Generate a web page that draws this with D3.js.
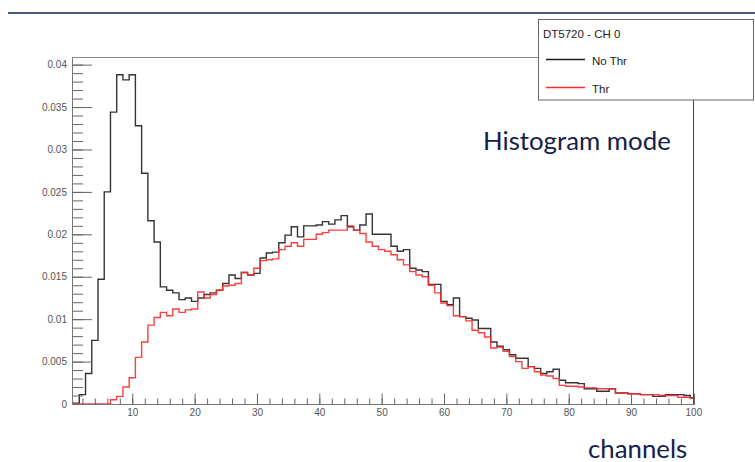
<!DOCTYPE html>
<html lang="en">
    <head>
        <meta charset="utf-8">
        <title>DT5720 - CH 0 histogram</title>
        <script type="text/javascript" src="https://d3js.org/d3.v7.min.js"></script>
        <style type="text/css">
            body { margin: 0; background: white; }
            .tick text {
                font-family: "Liberation Sans", sans-serif;
                font-size: 10px;
                fill: #555;
            }
            .legend text {
                font-family: "Liberation Sans", sans-serif;
                font-size: 11.5px;
                fill: #222;
            }
            .big {
                font-family: Lato, sans-serif;
                font-size: 25.8px;
                fill: #15204a;
            }
        </style>
    </head>
    <body>
        <script type="text/javascript">

        // Width and Height
        var w = 755;
        var h = 462;

        // Datos: canales 1..100, un bin por canal
        var channels = d3.range(1, 101);

        var noThr = [
            0.0001, 0.0011, 0.0036, 0.0075, 0.0147, 0.0250, 0.0344, 0.0388, 0.0382, 0.0388,
            0.0328, 0.0272, 0.0216, 0.0191, 0.0138, 0.0134, 0.0131, 0.0123, 0.0125, 0.0121,
            0.0125, 0.0129, 0.0131, 0.0134, 0.0142, 0.0152, 0.0148, 0.0155, 0.0152, 0.0154,
            0.0172, 0.0178, 0.0179, 0.0190, 0.0199, 0.0209, 0.0197, 0.0210, 0.0210, 0.0211,
            0.0215, 0.0212, 0.0217, 0.0222, 0.0209, 0.0205, 0.0211, 0.0224, 0.0200, 0.0200,
            0.0200, 0.0186, 0.0180, 0.0182, 0.0160, 0.0158, 0.0156, 0.0141, 0.0141, 0.0121,
            0.0117, 0.0125, 0.0103, 0.0101, 0.0099, 0.0089, 0.0089, 0.0073, 0.0068, 0.0064,
            0.0058, 0.0054, 0.0054, 0.0044, 0.0042, 0.0036, 0.0038, 0.0041, 0.0028, 0.0025,
            0.0025, 0.0024, 0.0018, 0.0018, 0.0015, 0.0015, 0.0018, 0.0013, 0.0013, 0.0012,
            0.0012, 0.0011, 0.0011, 0.0009, 0.0009, 0.0011, 0.0011, 0.0011, 0.0010, 0.0007
        ];

        var thr = [
            0, 0, 0, 0, 0, 0, 0.0005, 0.0009, 0.0020, 0.0031,
            0.0055, 0.0073, 0.0093, 0.0102, 0.0108, 0.0104, 0.0112, 0.0108, 0.0111, 0.0112,
            0.0132, 0.0125, 0.0129, 0.0134, 0.0139, 0.0140, 0.0142, 0.0155, 0.0152, 0.0160,
            0.0169, 0.0170, 0.0171, 0.0182, 0.0186, 0.0190, 0.0186, 0.0194, 0.0194, 0.0200,
            0.0202, 0.0205, 0.0205, 0.0205, 0.0210, 0.0205, 0.0201, 0.0191, 0.0186, 0.0182,
            0.0180, 0.0176, 0.0170, 0.0164, 0.0156, 0.0152, 0.0150, 0.0140, 0.0131, 0.0119,
            0.0116, 0.0104, 0.0103, 0.0098, 0.0087, 0.0084, 0.0079, 0.0066, 0.0067, 0.0062,
            0.0056, 0.0050, 0.0042, 0.0044, 0.0038, 0.0034, 0.0033, 0.0030, 0.0022, 0.0021,
            0.0021, 0.0020, 0.0019, 0.0019, 0.0018, 0.0018, 0.0018, 0.0013, 0.0013, 0.0012,
            0.0012, 0.0011, 0.0011, 0.0011, 0.0010, 0.0010, 0.0010, 0.0008, 0.0008, 0.0007
        ];

        // Ticks
        var xTickValues = [10, 20, 30, 40, 50, 60, 70, 80, 90, 100];
        var xTickLabels = ["10", "20", "30", "40", "50", "60", "70", "80", "90", "100"];
        var yTickValues = [0, 0.005, 0.01, 0.015, 0.02, 0.025, 0.03, 0.035, 0.04];
        var yTickLabels = ["0", "0.005", "0.01", "0.015", "0.02", "0.025", "0.03", "0.035", "0.04"];

        var legendTitle = "DT5720 - CH 0";
        var seriesNames = ["No Thr", "Thr"];
        var seriesColors = ["#1e1e1e", "#ff2a2a"];

        // Marco (no usar "top": choca con window.top)
        var fLeft = 72, fRight = 694, fTop = 57, fBottom = 404;

        var x = d3.scaleLinear().domain([0.33, 100.1]).range([fLeft, fRight]);
        var y = d3.scaleLinear().domain([0, 0.0409]).range([fBottom, fTop]);

        var svg = d3.select("body")
                    .append("svg")
                    .attr("width", w)
                    .attr("height", h);

        // Linea azul de la diapositiva
        svg.append("line")
            .attr("x1", 8).attr("x2", w)
            .attr("y1", 13).attr("y2", 13)
            .attr("stroke", "#4b5785")
            .attr("stroke-width", 2);

        svg.append("clipPath").attr("id", "plot")
            .append("rect")
            .attr("x", fLeft).attr("y", fTop)
            .attr("width", fRight - fLeft).attr("height", fBottom - fTop);

        // Histogramas como escalones
        var line = d3.line()
            .x(function(d){ return x(d[0]); })
            .y(function(d){ return y(d[1]); })
            .curve(d3.curveStepAfter);

        function steps(values) {
            var pts = [[channels[0] - 0.5, 0]];
            channels.forEach(function(c, i){
                pts.push([c - 0.5, values[i]]);
            });
            pts.push([channels[channels.length - 1] + 0.5, values[values.length - 1]]);
            return pts;
        }

        [noThr, thr].forEach(function(values, i){
            svg.append("path")
                .attr("clip-path", "url(#plot)")
                .attr("d", line(steps(values)))
                .attr("fill", "none")
                .attr("stroke", seriesColors[i])
                .attr("stroke-width", 1.4)
                .attr("opacity", 0.9);
        });

        // Ejes con marcas hacia dentro
        var yMinor = d3.axisLeft(y)
            .tickValues(d3.range(0, 0.0405, 0.001))
            .tickSize(-11)
            .tickFormat("");
        var yMajor = d3.axisLeft(y)
            .tickValues(yTickValues)
            .tickSize(-20)
            .tickPadding(5)
            .tickFormat(function(d, i){ return yTickLabels[i]; });

        var xMinor = d3.axisBottom(x)
            .tickValues(d3.range(2, 100.1, 2))
            .tickSize(-5.5)
            .tickFormat("");
        var xMajor = d3.axisBottom(x)
            .tickValues(xTickValues)
            .tickSize(-10.5)
            .tickPadding(5)
            .tickFormat(function(d, i){ return xTickLabels[i]; });

        [yMinor, yMajor].forEach(function(ax){
            svg.append("g")
                .attr("transform", "translate(" + fLeft + ",0)")
                .call(ax);
        });
        [xMinor, xMajor].forEach(function(ax){
            svg.append("g")
                .attr("transform", "translate(0," + fBottom + ")")
                .call(ax);
        });
        svg.selectAll(".domain").attr("stroke", "#777");
        svg.selectAll(".tick line").attr("stroke", "#666");

        // Resto del marco
        svg.append("line")
            .attr("x1", fLeft).attr("x2", 538.5)
            .attr("y1", fTop + 0.5).attr("y2", fTop + 0.5)
            .attr("stroke", "#888");
        svg.append("line")
            .attr("x1", fRight - 0.5).attr("x2", fRight - 0.5)
            .attr("y1", 100).attr("y2", fBottom)
            .attr("stroke", "#444");

        // Leyenda
        var legend = svg.append("g").attr("class", "legend");
        legend.append("rect")
            .attr("x", 538.5).attr("y", 19.5)
            .attr("width", 215).attr("height", 80.5)
            .attr("fill", "white")
            .attr("stroke", "#666");
        legend.append("text")
            .attr("x", 543).attr("y", 38)
            .text(legendTitle);
        seriesNames.forEach(function(name, i){
            var ly = 59.5 + i * 28;
            legend.append("line")
                .attr("x1", 546).attr("x2", 585)
                .attr("y1", ly).attr("y2", ly)
                .attr("stroke", seriesColors[i])
                .attr("stroke-width", 1.3);
            legend.append("text")
                .attr("x", 592).attr("y", ly + 5)
                .text(name);
        });

        // Textos grandes
        svg.append("text")
            .attr("class", "big")
            .attr("x", 483).attr("y", 150)
            .text("Histogram mode");
        svg.append("text")
            .attr("class", "big")
            .attr("x", 588).attr("y", 458)
            .text("channels");

        </script>
    </body>
</html>
